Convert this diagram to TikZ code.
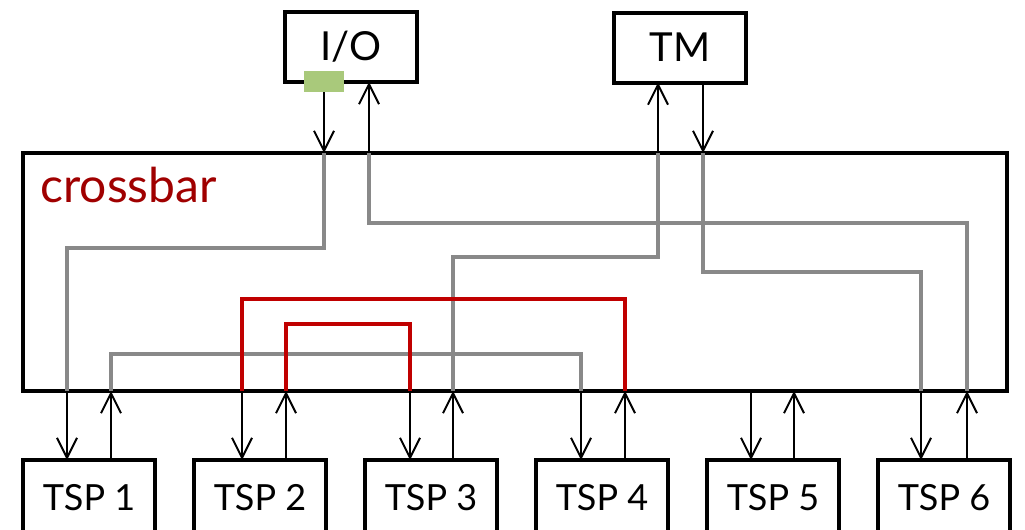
\documentclass[tikz,border=0pt]{standalone}
\usepackage{fontspec}
\setmainfont{Lato}
\usetikzlibrary{arrows.meta,positioning}
\definecolor{cbred}{HTML}{A00000}
\definecolor{linkred}{HTML}{C00000}
\definecolor{routegray}{HTML}{898989}
\definecolor{portgreen}{HTML}{A9C97B}
\tikzset{
  unit/.style={draw, line width=2pt, outer sep=0pt, inner sep=0pt, minimum width=66pt, minimum height=35pt, font=\fontsize{20}{24}\selectfont},
  tsp/.style={draw, line width=2pt, outer sep=0pt, inner sep=0pt, minimum width=66pt, minimum height=37.5pt, font=\fontsize{18}{22}\selectfont},
  bar/.style={draw, line width=2pt, outer sep=0pt, inner sep=0pt, minimum width=492pt, minimum height=119pt},
  port/.style={fill=portgreen, outer sep=0pt, inner sep=0pt, minimum width=20pt, minimum height=10.5pt},
  link/.style={-{Straight Barb[length=10pt, width=10pt]}, line width=1pt},
  route/.style={draw=routegray, line width=1.75pt},
  hotroute/.style={draw=linkred, line width=1.75pt}
}
\begin{document}
\begin{tikzpicture}[x=0.5pt, y=-0.5pt, node distance=19.5pt]
  \clip (0,0) rectangle (1025,530);

  % top units
  \node[unit] (io) at (351,47) {I/O};
  \node[port] (iobuf) at (324,81.5) {};
  \node[unit] (tm) at (680,47.5) {TM};

  % crossbar
  \node[bar] (cb) at (515,272) {};
  \node[anchor=base west, text=cbred, inner sep=0pt, font=\fontsize{24}{28}\selectfont] (cblabel) at (40,202) {crossbar};

  % processors
  \node[tsp] (tsp1) at (89,497.5) {TSP 1};
  \node[tsp, right=of tsp1] (tsp2) {TSP 2};
  \node[tsp, right=of tsp2] (tsp3) {TSP 3};
  \node[tsp, right=of tsp3] (tsp4) {TSP 4};
  \node[tsp, right=of tsp4] (tsp5) {TSP 5};
  \node[tsp, right=of tsp5] (tsp6) {TSP 6};

  % port positions
  \coordinate (iou) at (369,0);
  \coordinate (tmu) at (658,0);
  \coordinate (tmd) at (703,0);
  \coordinate (t1d) at (67,0);  \coordinate (t1u) at (111,0);
  \coordinate (t2d) at (242,0); \coordinate (t2u) at (286,0);
  \coordinate (t3d) at (410,0); \coordinate (t3u) at (453,0);
  \coordinate (t4d) at (581,0); \coordinate (t4u) at (625,0);
  \coordinate (t5d) at (751,0); \coordinate (t5u) at (794,0);
  \coordinate (t6d) at (921,0); \coordinate (t6u) at (967,0);

  % routes through the crossbar
  \draw[route] (cb.north -| iobuf.south) -- ++(0,95) -| (cb.south -| t1d);
  \draw[route] (cb.north -| iou) -- ++(0,70) -| (cb.south -| t6u);
  \draw[route] (cb.north -| tmu) -- ++(0,104) -| (cb.south -| t3u);
  \draw[route] (cb.north -| tmd) -- ++(0,119) -| (cb.south -| t6d);
  \draw[route] (cb.south -| t1u) -- ++(0,-37) -| (cb.south -| t4d);
  \draw[hotroute] (cb.south -| t4u) -- ++(0,-92) -| (cb.south -| t2d);
  \draw[hotroute] (cb.south -| t2u) -- ++(0,-67) -| (cb.south -| t3d);

  % links to the top units
  \draw[link] (iobuf.south) -- (cb.north -| iobuf.south);
  \draw[link] (cb.north -| iou) -- (io.south -| iou);
  \draw[link] (cb.north -| tmu) -- (tm.south -| tmu);
  \draw[link] (tm.south -| tmd) -- (cb.north -| tmd);

  % links to the processors
  \draw[link] (cb.south -| t1d) -- (tsp1.north -| t1d);
  \draw[link] (tsp1.north -| t1u) -- (cb.south -| t1u);
  \draw[link] (cb.south -| t2d) -- (tsp2.north -| t2d);
  \draw[link] (tsp2.north -| t2u) -- (cb.south -| t2u);
  \draw[link] (cb.south -| t3d) -- (tsp3.north -| t3d);
  \draw[link] (tsp3.north -| t3u) -- (cb.south -| t3u);
  \draw[link] (cb.south -| t4d) -- (tsp4.north -| t4d);
  \draw[link] (tsp4.north -| t4u) -- (cb.south -| t4u);
  \draw[link] (cb.south -| t5d) -- (tsp5.north -| t5d);
  \draw[link] (tsp5.north -| t5u) -- (cb.south -| t5u);
  \draw[link] (cb.south -| t6d) -- (tsp6.north -| t6d);
  \draw[link] (tsp6.north -| t6u) -- (cb.south -| t6u);
\end{tikzpicture}
\end{document}
